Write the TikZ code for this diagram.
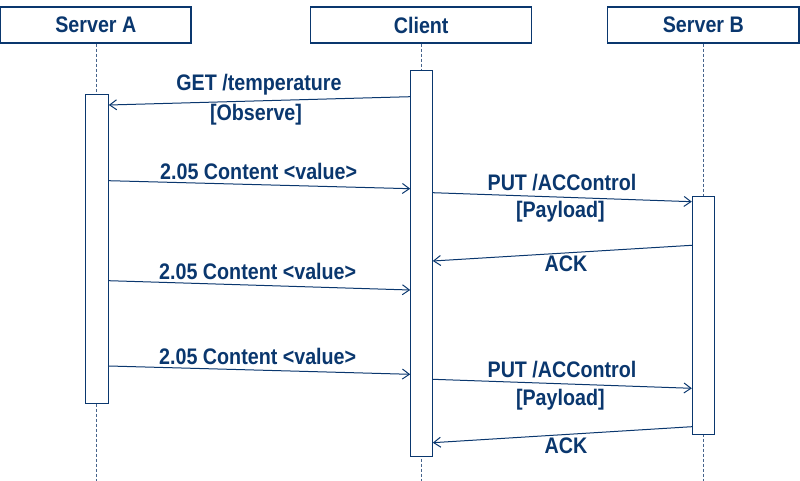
\documentclass[tikz,border=0pt]{standalone}
\usepackage{fontspec}
\setmainfont{Liberation Sans}[FakeStretch=0.875]
\usetikzlibrary{arrows.meta}

\definecolor{navy}{RGB}{10,55,110}
\definecolor{lifegray}{RGB}{70,100,140}

\tikzset{
	msgfont/.style={font=\bfseries\fontsize{22.5}{25}\selectfont},
	head/.style={draw=navy, line width=1.2pt, minimum height=36pt, inner sep=0pt, text=navy, msgfont},
	actbox/.style={draw=navy, fill=white, line width=1pt, inner sep=0pt},
	lifeline/.style={draw=lifegray, dash pattern=on 3pt off 2pt, line width=0.9pt},
	msg/.style={draw=navy, line width=1pt, -{Straight Barb[length=7pt,width=10pt]}},
	lbl/.style={text=navy, inner sep=0pt, msgfont}
}

\begin{document}
\begin{tikzpicture}[x=1pt,y=-1pt]
		\useasboundingbox (0,0) rectangle (800,481);
		
		% header boxes
		\node[head, minimum width=190.3pt] (srvA) at (95.85,25) {Server A};
		\node[head, minimum width=221pt] (client) at (421.2,25) {Client};
		\node[head, minimum width=191.3pt] (srvB) at (703.35,25) {Server B};
		
		% activation bars
		\coordinate (topA) at (96.8,94.3);
		\coordinate (topC) at (421.5,70.3);
		\coordinate (topB) at (703.3,195.7);
		\draw[lifeline] (srvA.south -| topA) -- (topA) -- (topA |- 0,481);
		\draw[lifeline] (client.south -| topC) -- (topC) -- (topC |- 0,481);
		\draw[lifeline] (srvB.south -| topB) -- (topB) -- (topB |- 0,481);
		
		\node[actbox, minimum width=23pt, minimum height=308.7pt, anchor=north] (actA) at (topA) {};
		\node[actbox, minimum width=21.6pt, minimum height=385.7pt, anchor=north] (actC) at (topC) {};
		\node[actbox, minimum width=22pt, minimum height=238.6pt, anchor=north] (actB) at (topB) {};
		
		% messages
		\draw[msg] (actC.west |- 0,96.7) -- (actA.east |- 0,105);
		\node[lbl] (get) at (259,85) {GET /temperature};
		\node[lbl] (obs) at (256,115) {[Observe]};
		
		\draw[msg] (actA.east |- 0,180.7) -- (actC.west |- 0,188.7);
		\node[lbl] (val1) at (258.7,171.7) {2.05 Content <value>};
		
		\draw[msg] (actC.east |- 0,192.7) -- (actB.west |- 0,201.7);
		\node[lbl] (put1) at (562,182.3) {PUT /ACControl};
		\node[lbl] (pay1) at (560.3,211.7) {[Payload]};
		
		\draw[msg] (actB.west |- 0,245.3) -- (actC.east |- 0,261);
		\node[lbl] (ack1) at (566,264) {ACK};
		
		\draw[msg] (actA.east |- 0,280.7) -- (actC.west |- 0,290);
		\node[lbl] (val2) at (257.7,271.7) {2.05 Content <value>};
		
		\draw[msg] (actA.east |- 0,366) -- (actC.west |- 0,374.3);
		\node[lbl] (val3) at (257.7,356) {2.05 Content <value>};
		
		\draw[msg] (actC.east |- 0,379.3) -- (actB.west |- 0,388.3);
		\node[lbl] (put2) at (562,370) {PUT /ACControl};
		\node[lbl] (pay2) at (560.3,399.3) {[Payload]};
		
		\draw[msg] (actB.west |- 0,426.7) -- (actC.east |- 0,442.7);
		\node[lbl] (ack2) at (566,446) {ACK};
	\end{tikzpicture}
\end{document}
